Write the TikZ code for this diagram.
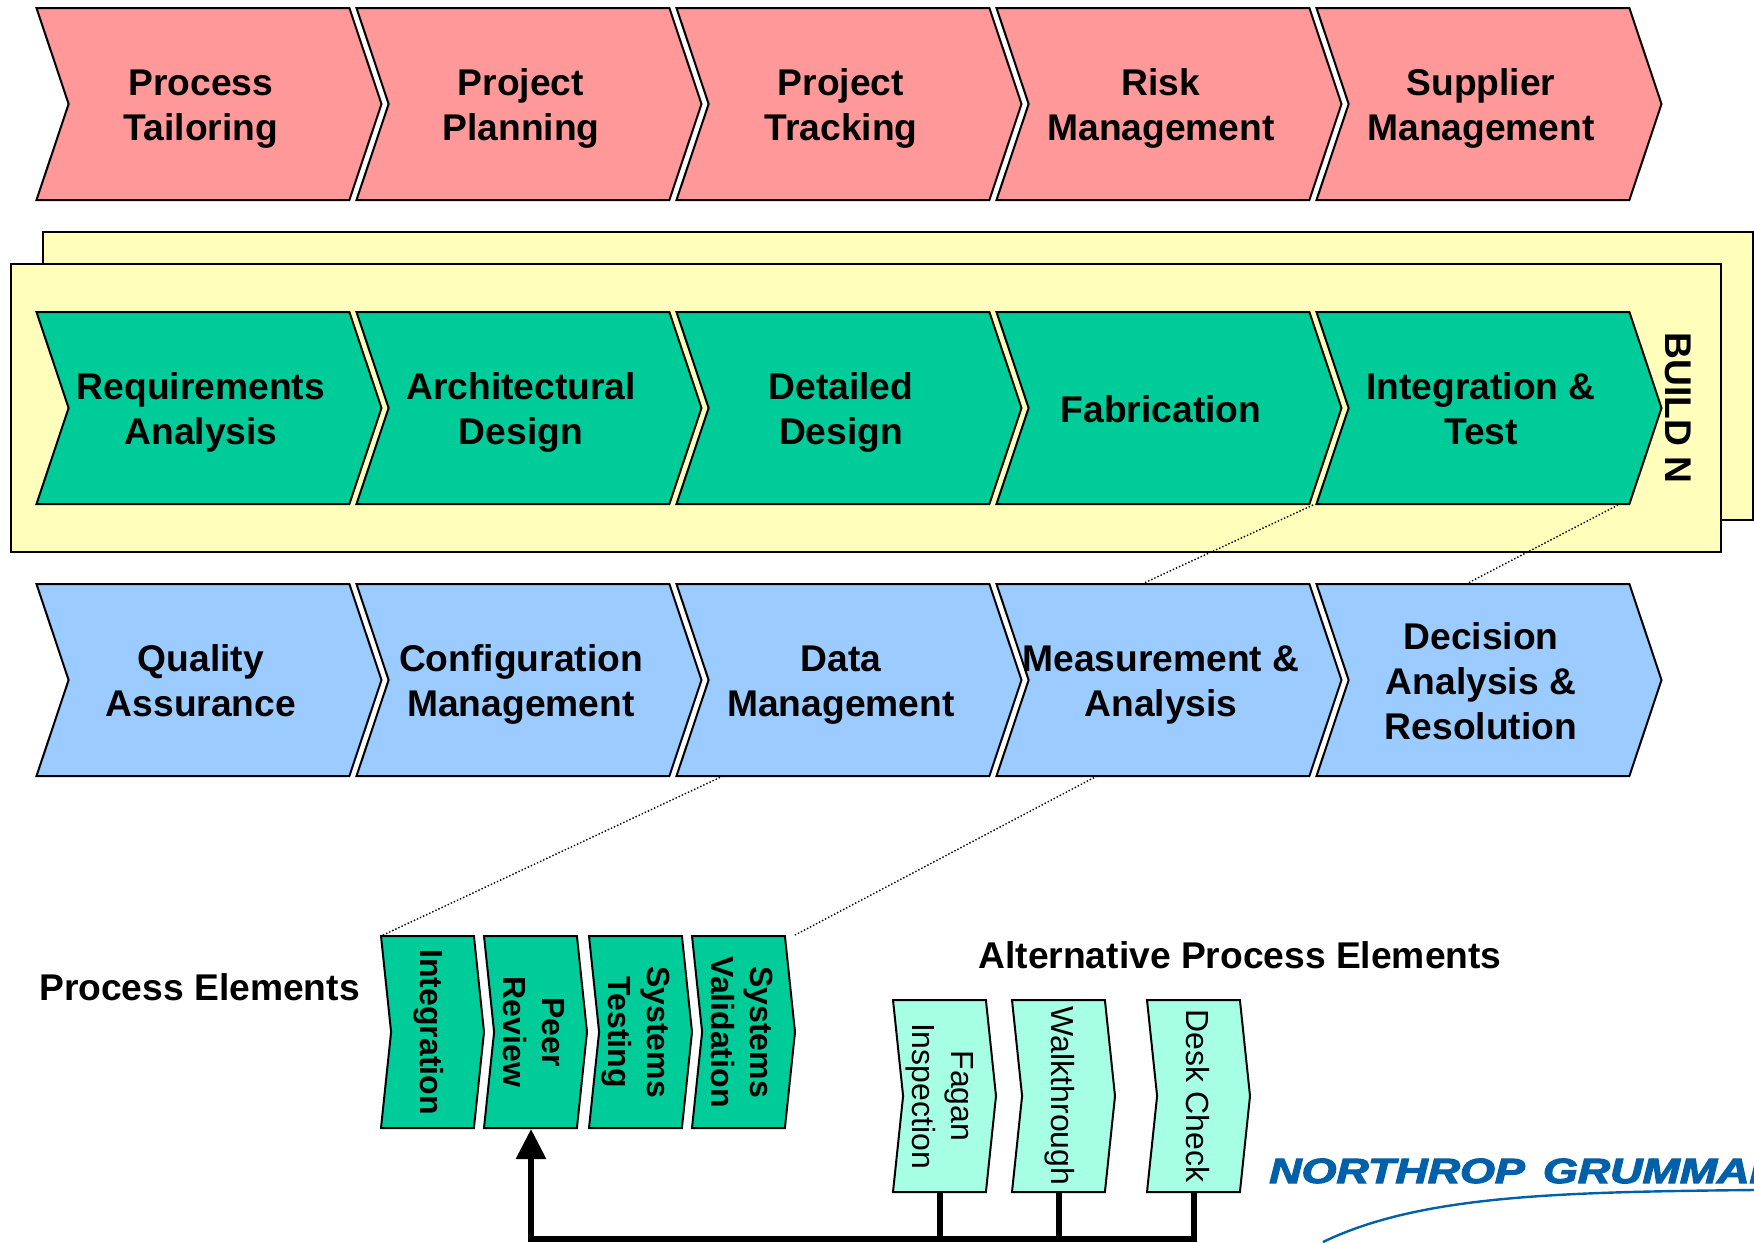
\documentclass[tikz,border=0pt]{standalone}
\usepackage{graphicx}
\usepackage{array}
\usepackage{fontspec}
\setmainfont{Liberation Sans}
\newfontfamily\logofont[BoldItalicFeatures={FakeBold=3}]{Liberation Sans}
\usetikzlibrary{arrows.meta,shapes.symbols}

\definecolor{procpink}{HTML}{FF9999}
\definecolor{procgreen}{HTML}{00CC99}
\definecolor{procblue}{HTML}{9CCCFF}
\definecolor{procmint}{HTML}{A6FFE3}
\definecolor{buildyellow}{HTML}{FFFFBB}
\definecolor{logoblue}{HTML}{0060A9}

\newcommand{\capstrut}{\rule[-4.1pt]{0pt}{22.5pt}}
\newcommand{\chevtext}[1]{\renewcommand{\arraystretch}{0}\makebox[0pt]{\begin{tabular}{@{}>{\capstrut}c@{\hspace{8pt}}}#1\end{tabular}}}
\newcommand{\sidetext}[1]{\makebox[0pt]{\rotatebox{-90}{\begin{tabular}{@{}c@{}}#1\end{tabular}}\hspace*{4.5pt}}}

\begin{document}
\begin{tikzpicture}[x=0.5pt,y=-0.5pt,node distance=160pt,line width=1pt]

  \tikzstyle{chevron}=[draw=black,signal,signal from=west,signal to=east,signal pointer angle=143,
    minimum width=172.5pt,minimum height=96pt,inner sep=0pt,
    font=\bfseries\fontsize{18.6}{22.5}\selectfont]
  \tikzstyle{mini}=[draw=black,signal,signal from=west,signal to=east,signal pointer angle=168,
    minimum width=51.5pt,minimum height=96pt,inner sep=0pt,
    font=\fontsize{16}{19.5}\selectfont]
  \tikzstyle{boldmini}=[mini,fill=procgreen,font=\bfseries\fontsize{16}{19.5}\selectfont]
  \tikzstyle{buildbox}=[draw=black,fill=buildyellow,minimum width=855pt,minimum height=144pt,inner sep=0pt]
  \tikzstyle{heading}=[font=\bfseries\fontsize{18.6}{22.5}\selectfont]
  \tikzstyle{zoomline}=[densely dotted,line width=0.7pt]
  \tikzstyle{busline}=[line width=3pt]

  \useasboundingbox (0,0) rectangle (1754,1242);

  % build stack
  \node[buildbox] (backbox) at (898,376) {};
  \node[buildbox] (frontbox) at (866,408) {};
  \node[font=\bfseries\fontsize{18.6}{22}\selectfont,rotate=-90] (buildn) at (1678,408) {BUILD N};

  % top row
  \node[chevron,fill=procpink] (tailor) at (209,104) {\chevtext{Process\\Tailoring}};
  \node[chevron,fill=procpink] (plan) [right of=tailor] {\chevtext{Project\\Planning}};
  \node[chevron,fill=procpink] (track) [right of=plan] {\chevtext{Project\\Tracking}};
  \node[chevron,fill=procpink] (risk) [right of=track] {\chevtext{Risk\\Management}};
  \node[chevron,fill=procpink] (supp) [right of=risk] {\chevtext{Supplier\\Management}};

  % middle row
  \node[chevron,fill=procgreen] (req) at (209,408) {\chevtext{Requirements\\Analysis}};
  \node[chevron,fill=procgreen] (arch) [right of=req] {\chevtext{Architectural\\Design}};
  \node[chevron,fill=procgreen] (detail) [right of=arch] {\chevtext{Detailed\\Design}};
  \node[chevron,fill=procgreen] (fab) [right of=detail] {\chevtext{Fabrication}};
  \node[chevron,fill=procgreen] (integ) [right of=fab] {\chevtext{Integration \&\\Test}};

  % bottom row
  \node[chevron,fill=procblue] (qual) at (209,680) {\chevtext{Quality\\Assurance}};
  \node[chevron,fill=procblue] (conf) [right of=qual] {\chevtext{Configuration\\Management}};
  \node[chevron,fill=procblue] (data) [right of=conf] {\chevtext{Data\\Management}};
  \node[chevron,fill=procblue] (meas) [right of=data] {\chevtext{Measurement \&\\Analysis}};
  \node[chevron,fill=procblue] (deci) [right of=meas] {\chevtext{Decision\\Analysis \&\\Resolution}};

  % process elements
  \node[heading] (pelabel) at (199.5,987) {Process Elements};
  \node[boldmini] (pint) at (432.5,1032) {\sidetext{Integration}};
  \node[boldmini] (peer) at (535.5,1032) {\sidetext{Peer\\Review}};
  \node[boldmini] (stest) at (640.5,1032) {\sidetext{Systems\\Testing}};
  \node[boldmini] (sval) at (743.5,1032) {\sidetext{Systems\\Validation}};

  % alternatives
  \node[heading] (altlabel) at (1240,955) {Alternative Process Elements};
  \node[mini,fill=procmint] (fagan) at (944.5,1096) {\sidetext{Fagan\\Inspection}};
  \node[mini,fill=procmint] (walk) at (1063.5,1096) {\sidetext{Walkthrough}};
  \node[mini,fill=procmint] (desk) at (1198.5,1096) {\sidetext{Desk Check}};

  \coordinate (busend) at (531,1239);
  \coordinate (peerfoot) at ([xshift=-2.25pt]peer.south);
  \coordinate (faganfoot) at ([xshift=-2.25pt]fagan.south);
  \coordinate (walkfoot) at ([xshift=-2.25pt]walk.south);
  \coordinate (deskfoot) at ([xshift=-2.25pt]desk.south);
  \draw[busline,-{Triangle[width=14.5pt,length=15pt]}] (deskfoot) |- (busend) -- (peerfoot);
  \draw[busline] (faganfoot) -- (faganfoot |- busend);
  \draw[busline] (walkfoot) -- (walkfoot |- busend);

  % zoom lines
  \coordinate (fabfoot) at (1313,505);
  \coordinate (meastop) at (1144,583);
  \coordinate (integfoot) at (1618,505);
  \coordinate (decitop) at (1468,583);
  \coordinate (datafoot) at (723,776);
  \coordinate (pinttop) at (381,936);
  \coordinate (measfoot) at (1097,776);
  \coordinate (svaltop) at (795,935);
  \draw[zoomline] (fabfoot) -- (meastop);
  \draw[zoomline] (integfoot) -- (decitop);
  \draw[zoomline] (datafoot) -- (pinttop);
  \draw[zoomline] (measfoot) -- (svaltop);

  % logo
  \begin{scope}
    \clip (1200,1100) rectangle (1754,1242);
    \node[anchor=base west,inner sep=0pt,text=logoblue,xscale=1.28,font=\logofont\bfseries\itshape\fontsize{17.5}{20}\selectfont] (logo) at (1268,1183) {NORTHROP\hspace{7.1pt}GRUMMAN};
    \coordinate (swoosha) at (1323,1242);
    \coordinate (swooshb) at (1754,1190);
    \draw[logoblue,line width=1.2pt] (swoosha) .. controls (1420,1195) and (1560,1192) .. (swooshb);
  \end{scope}
\end{tikzpicture}
\end{document}
